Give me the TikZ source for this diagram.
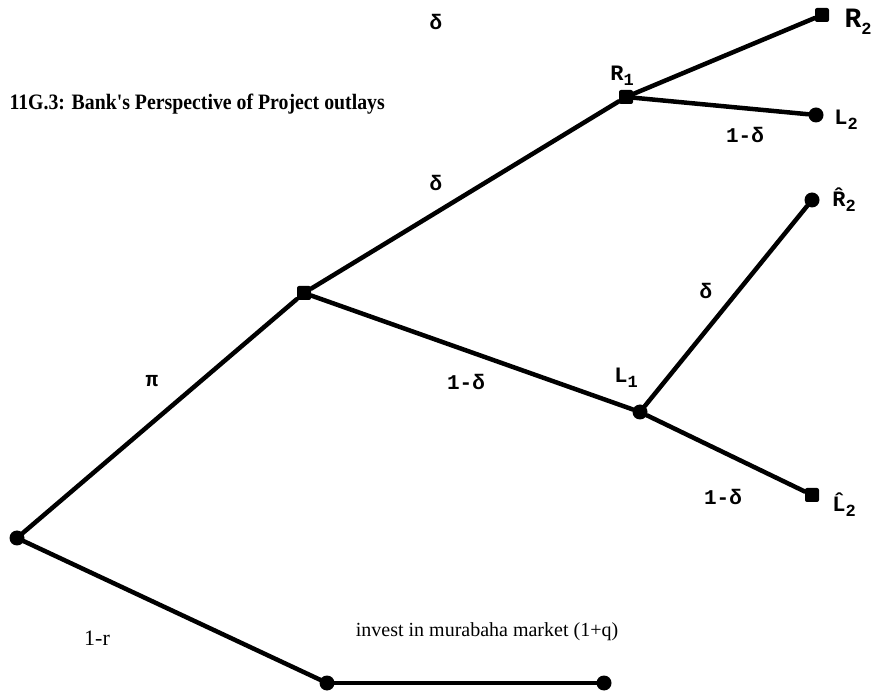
\documentclass[tikz,border=0pt]{standalone}
\usepackage{fontspec}
\setmainfont{Liberation Serif}
\newfontfamily\labelfont{Liberation Mono}
\usetikzlibrary{positioning}
\newcommand{\lowidx}[1]{\raisebox{-.45ex}{\fontsize{17}{17}\selectfont #1}}
\tikzset{
  branch/.style={line width=4.5pt,black,line cap=round},
  knot/.style={circle,fill=black,inner sep=0pt,minimum size=15pt},
  knotsq/.style={rectangle,rounded corners=2pt,fill=black,inner sep=0pt,minimum size=14pt},
  prob/.style={font=\labelfont\bfseries\fontsize{21}{21}\selectfont,inner sep=1pt},
  state/.style={font=\labelfont\bfseries\fontsize{22}{22}\selectfont,inner sep=1pt},
  caption/.style={font=\fontsize{20}{20}\selectfont,inner sep=1pt},
}
\begin{document}
\begin{tikzpicture}[x=1pt,y=-1pt]
\useasboundingbox (0,0) rectangle (879,700);
% decision points
\node[knot]   (root) at (17,538) {};
\node[knotsq] (proj) at (304,293) {};
\node[knotsq] (r1)   at (626,97) {};
\node[knot]   (l1)   at (640,412) {};
\node[knotsq] (r2)   at (822,15) {};
\node[knot]   (l2)   at (816,115) {};
\node[knot]   (r2h)  at (812,200) {};
\node[knotsq] (l2h)  at (812,495) {};
\node[knot]   (mur1) at (327,683) {};
\node[knot]   (mur2) at (604,683) {};
% branches
\draw[branch] (root) -- (proj);
\draw[branch] (root) -- (mur1);
\draw[branch] (mur1) -- (mur2);
\draw[branch] (proj) -- (r1);
\draw[branch] (proj) -- (l1);
\draw[branch] (r1) -- (r2);
\draw[branch] (r1) -- (l2);
\draw[branch] (l1) -- (r2h);
\draw[branch] (l1) -- (l2h);
% texts
\node[font=\bfseries\fontsize{22}{22}\selectfont,anchor=west] (ttl) at (6,104)
  {\scalebox{0.9}[1]{11G.3: Bank\textquotesingle s Perspective of Project outlays}};
\node[state] (r1lbl)  at (622,76)  {R\lowidx{1}};
\node[state,font=\labelfont\bfseries\fontsize{28}{28}\selectfont] (r2lbl) at (858,22) {R\lowidx{2}};
\node[state] (l2lbl)  at (846,120) {L\lowidx{2}};
\node[state] (r2hlbl) at (844,200) {\^{R}\lowidx{2}};
\node[state] (l1lbl)  at (626,378) {L\lowidx{1}};
\node[state] (l2hlbl) at (844,505) {\^{L}\lowidx{2}};
\node[prob] (p1) at (436,22)  {δ};
\node[prob] (p2) at (745,135) {1-δ};
\node[prob] (p3) at (436,183) {δ};
\node[prob] (p4) at (706,291) {δ};
\node[prob] (p5) at (466,382) {1-δ};
\node[prob] (p6) at (152,381) {π};
\node[prob] (p7) at (723,497) {1-δ};
\node[caption,font=\fontsize{22}{22}\selectfont] (p8) at (97,638) {1-r};
\node[caption] (invest) at (487,632) {invest in murabaha market (1+q)};
\end{tikzpicture}
\end{document}
